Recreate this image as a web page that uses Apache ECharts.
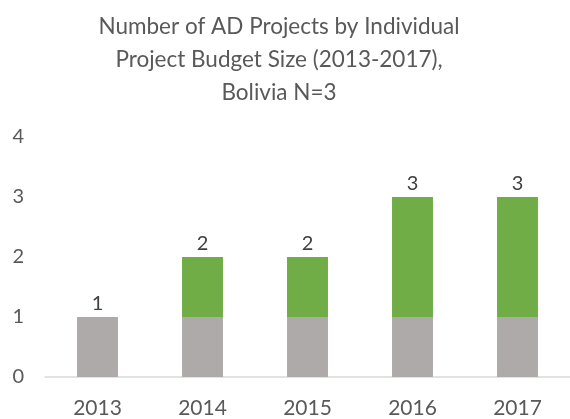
<!DOCTYPE html>
<html><head><meta charset="utf-8">
<script src="https://cdn.jsdelivr.net/npm/echarts@6/dist/echarts.min.js"></script>
<style>html,body{margin:0;padding:0;background:#fff}#c{width:570px;height:419px}</style>
</head><body><div id="c"></div>
<script>
const titleText = 'Number of AD Projects by Individual\nProject Budget Size (2013-2017),\nBolivia N=3';
const categories = ['2013', '2014', '2015', '2016', '2017'];
const graySeries = [1, 1, 1, 1, 1];
const greenSeries = [0, 1, 1, 2, 2];
const yTicks = [0, 1, 2, 3, 4];

const totals = categories.map((_, i) => graySeries[i] + greenSeries[i]);
const font = 'Lato, "Open Sans", sans-serif';
const chart = echarts.init(document.getElementById('c'), null, {renderer: 'canvas'});
chart.setOption({
  animation: false,
  backgroundColor: '#fff',
  title: {
    text: titleText, left: 274, top: 5, textAlign: 'center',
    textStyle: {fontFamily: font, fontSize: 22.5, fontWeight: 'normal', color: '#595959', lineHeight: 33}
  },
  grid: {left: 45, right: -5, top: 137, bottom: 41, containLabel: false},
  xAxis: {
    type: 'category', data: categories,
    axisLine: {lineStyle: {color: '#D9D9D9', width: 1.5}},
    axisTick: {show: false},
    axisLabel: {fontFamily: font, fontSize: 21, color: '#595959', margin: 21}
  },
  yAxis: {
    type: 'value', min: yTicks[0], max: yTicks[yTicks.length - 1], interval: 1,
    axisLine: {show: false}, axisTick: {show: false}, splitLine: {show: false},
    axisLabel: {fontFamily: font, fontSize: 20, color: '#595959', margin: 21}
  },
  series: [
    {type: 'bar', stack: 's', data: graySeries, barWidth: '39%', itemStyle: {color: '#AEAAAA'}},
    {type: 'bar', stack: 's', data: greenSeries, barWidth: '39%', itemStyle: {color: '#70AD47'},
     label: {show: true, position: 'top', distance: 3, fontFamily: font, fontSize: 20, color: '#404040',
       formatter: p => String(totals[p.dataIndex])}}
  ]
});
</script></body></html>
